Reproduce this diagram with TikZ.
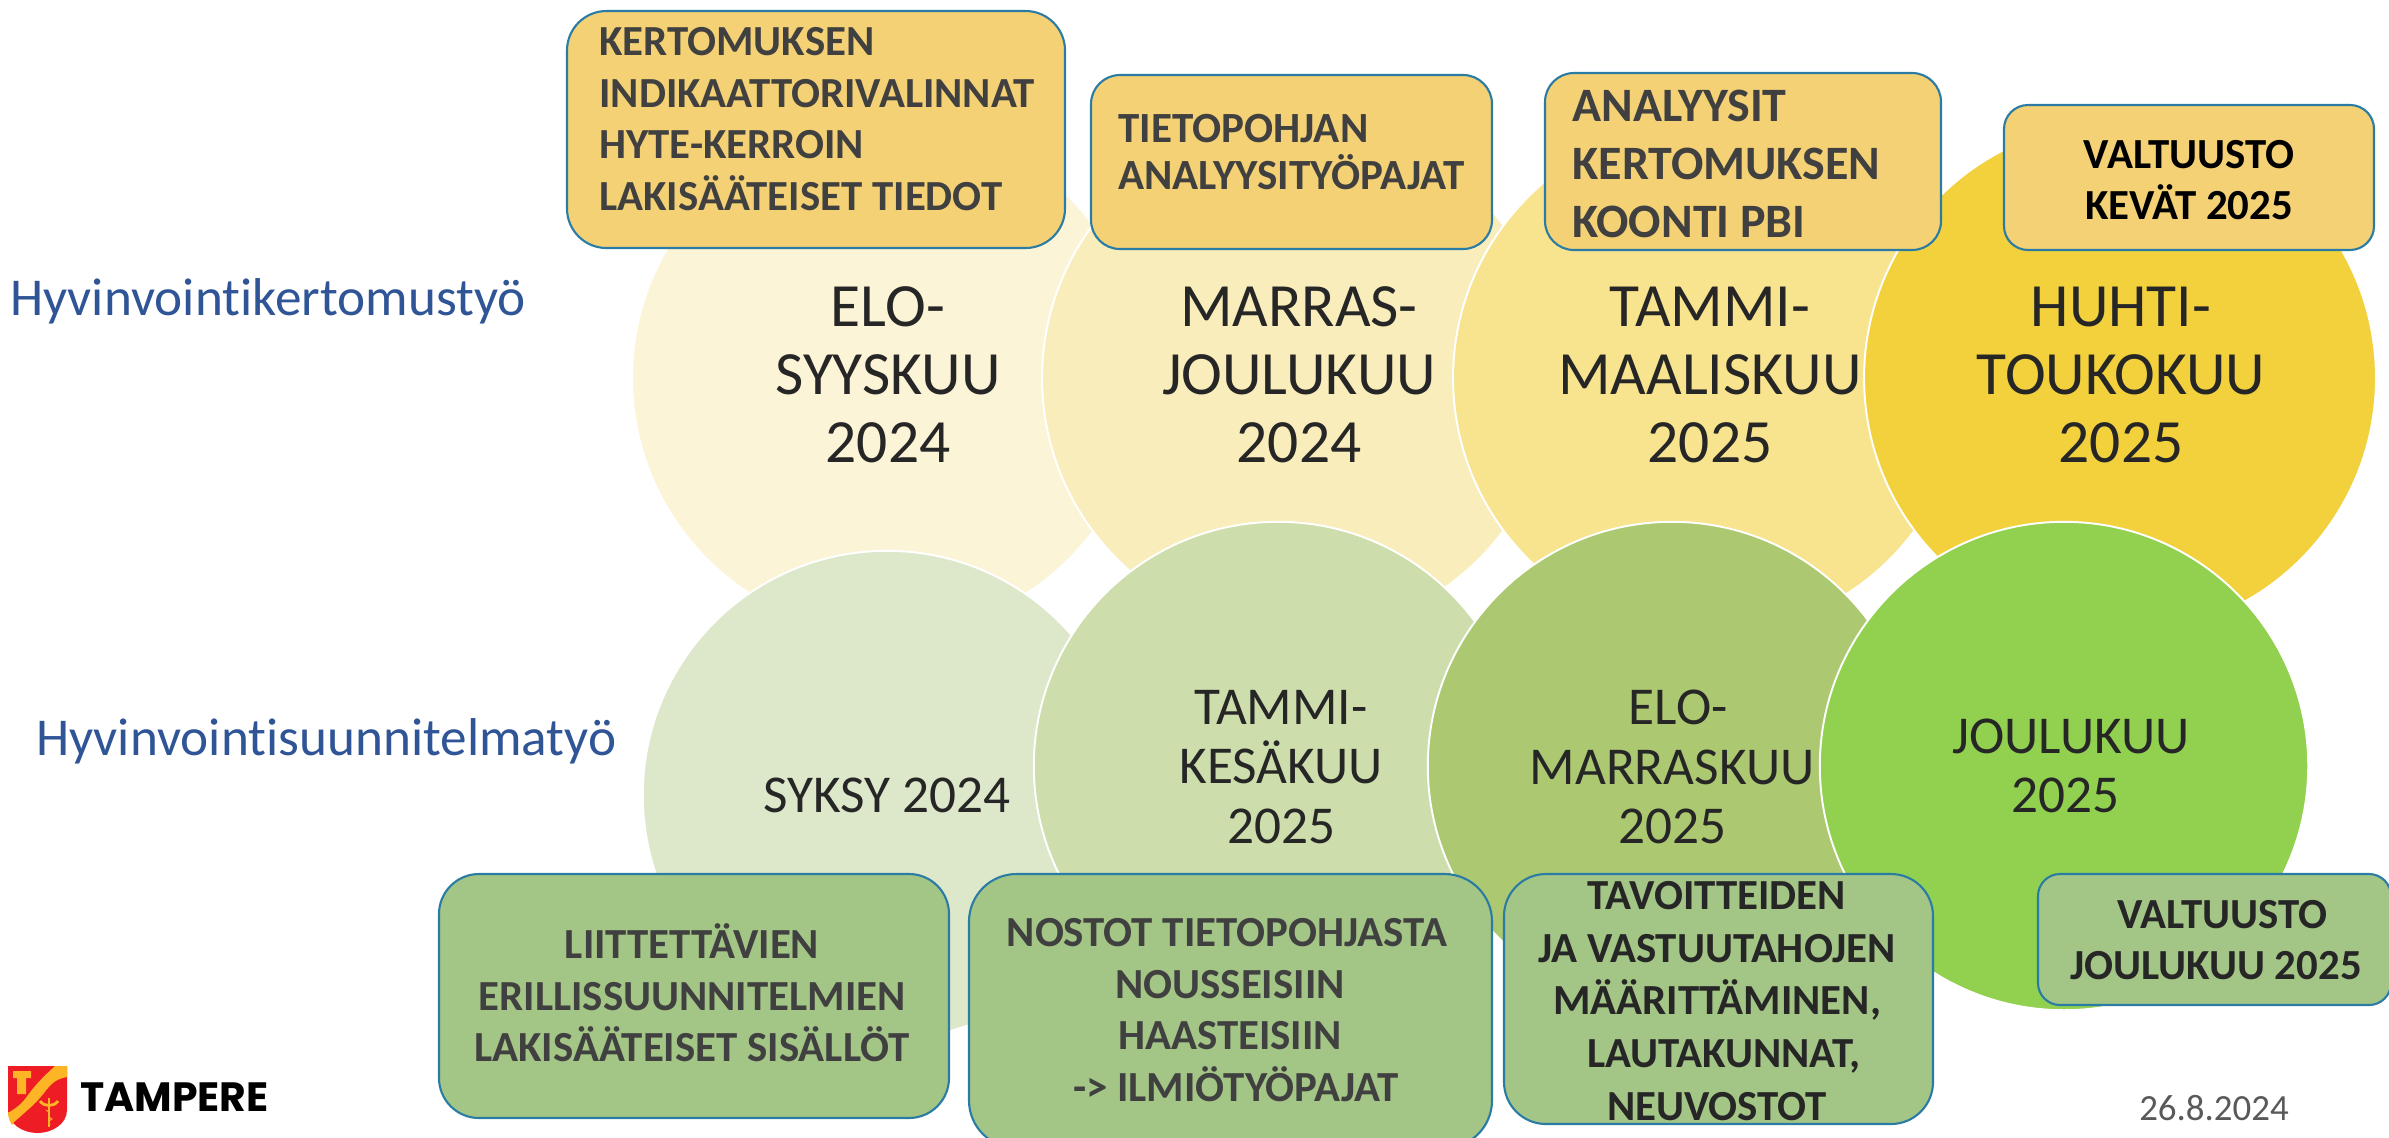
\documentclass[tikz,border=0pt]{standalone}
\usepackage{fontspec}
\setmainfont[Ligatures=NoCommon]{Carlito}
\newfontfamily\logofont{Poppins}
\newcommand{\topsize}{10.24cm}
\newcommand{\lowsize}{9.77cm}
\newcommand{\monthfont}{\fontsize{35}{38.7}\selectfont}
\newcommand{\lowfont}{\fontsize{30.3}{34}\selectfont}
\newcommand{\boxfont}{\fontsize{24.4}{29.3}\selectfont\bfseries}
\definecolor{topone}{HTML}{FCF4D6}
\definecolor{toptwo}{HTML}{F9EDBB}
\definecolor{topthree}{HTML}{F8E38E}
\definecolor{topfour}{HTML}{F2D13C}
\definecolor{lowone}{HTML}{DDE8CB}
\definecolor{lowtwo}{HTML}{CDDDAC}
\definecolor{lowthree}{HTML}{ACC871}
\definecolor{lowfour}{HTML}{92D050}
\definecolor{boxyellow}{HTML}{F4D175}
\definecolor{boxgreen}{HTML}{A3C585}
\definecolor{boxline}{HTML}{2A7CA4}
\definecolor{boxtext}{HTML}{404040}
\definecolor{labelblue}{HTML}{2F5597}
\definecolor{shieldred}{HTML}{EE1C25}
\definecolor{shieldgold}{HTML}{FDB525}
\tikzset{
  month/.style={circle,draw=white,line width=1.1pt,minimum size=#1,inner sep=0pt},
  monthtext/.style={align=center,font=\monthfont,text=black!85},
  notebox/.style={draw=boxline,line width=1.2pt,fill=#1},
  notetext/.style={align=center,font=\boxfont,text=boxtext,inner sep=0pt},
  rowlabel/.style={anchor=west,inner sep=0pt,font=\fontsize{30.3}{34}\selectfont,text=labelblue}
}

\begin{document}
\begin{tikzpicture}[x=0.02cm,y=-0.02cm]
\useasboundingbox (0,0) rectangle (2389,1137);

% Upper row of circles
\node (TA) [month=\topsize,fill=topone] at (888,378) {};
\node (TB) [month=\topsize,fill=toptwo] at (1298,378) {};
\node (TC) [month=\topsize,fill=topthree] at (1709,378) {};
\node (TD) [month=\topsize,fill=topfour] at (2120,378) {};

% Lower row of circles
\node (LA) [month=\lowsize,fill=lowone] at (887,795) {};
\node (LB) [month=\lowsize,fill=lowtwo] at (1278,766) {};
\node (LC) [month=\lowsize,fill=lowthree] at (1672,766) {};
\node (LD) [month=\lowsize,fill=lowfour] at (2064,766) {};

% Label the circles
\node (TAtext) [monthtext] at (888,375) {ELO-\\SYYSKUU\\2024};
\node (TBtext) [monthtext] at (1299,375) {MARRAS-\\JOULUKUU\\2024};
\node (TCtext) [monthtext] at (1710,375) {TAMMI-\\MAALISKUU\\2025};
\node (TDtext) [monthtext] at (2121,375) {HUHTI-\\TOUKOKUU\\2025};
\node (LAtext) [monthtext,font=\lowfont] at (887,795) {SYKSY 2024};
\node (LBtext) [monthtext,font=\lowfont] at (1281,767) {TAMMI-\\KESÄKUU\\2025};
\node (LCtext) [monthtext,font=\lowfont] at (1672,767) {\hspace*{7pt}ELO-\\MARRASKUU\\2025};
\node (LDtext) [monthtext,font=\lowfont] at (2071,766) {JOULUKUU\\2025\hspace*{6pt}};

% Upper boxes
\path[notebox=boxyellow,rounded corners=0.79cm] (567,11) rectangle (1065,248);
\node (UA) [notetext,align=left,anchor=west] at (599,119) {KERTOMUKSEN\\INDIKAATTORIVALINNAT\\HYTE-KERROIN\\LAKISÄÄTEISET TIEDOT};
\path[notebox=boxyellow,rounded corners=0.58cm] (1091,75) rectangle (1492,249);
\node (UB) [notetext,align=left,anchor=west,font=\bfseries\fontsize{24.5}{27}\selectfont] at (1118,152) {TIETOPOHJAN\\ANALYYSITYÖPAJAT};
\path[notebox=boxyellow,rounded corners=0.58cm] (1545,73) rectangle (1941,250);
\node (UC) [notetext,align=left,anchor=west,font=\bfseries\fontsize{27.3}{33}\selectfont] at (1572,164) {ANALYYSIT\\KERTOMUKSEN\\KOONTI PBI};
\path[notebox=boxyellow,rounded corners=0.48cm] (2004,105) rectangle (2374,250);
\node (UD) [notetext,text=black] at (2189,180) {VALTUUSTO\\KEVÄT 2025};

% Lower boxes
\path[notebox=boxgreen,rounded corners=0.8cm] (439,874) rectangle (949,1118);
\node (BA) [notetext] at (692,993) {LIITTETTÄVIEN\\ERILLISSUUNNITELMIEN\\LAKISÄÄTEISET SISÄLLÖT};
\path[notebox=boxgreen,rounded corners=0.95cm] (969,874) rectangle (1492,1148);
\node (BB) [notetext] at (1227,1010) {NOSTOT TIETOPOHJASTA\\\hspace*{3.4pt}NOUSSEISIIN\\\hspace*{3.4pt}HAASTEISIIN\\\hspace*{10pt}-> ILMIÖTYÖPAJAT};
\path[notebox=boxgreen,rounded corners=0.84cm] (1504,874) rectangle (1933,1124);
\node (BC) [notetext,text=black!85,font=\bfseries\fontsize{24.4}{30}\selectfont] at (1717,1001) {TAVOITTEIDEN\\JA VASTUUTAHOJEN\\MÄÄRITTÄMINEN,\\\hspace*{8pt}LAUTAKUNNAT,\\NEUVOSTOT};
\path[notebox=boxgreen,rounded corners=0.44cm] (2038,874) rectangle (2391,1005);
\node (BD) [notetext,text=black!85] at (2216,940) {\hspace*{7pt}VALTUUSTO\\JOULUKUU 2025};

% Row labels and date
\node (HK) [rowlabel] at (10,301) {Hyvinvointikertomustyö};
\node (HS) [rowlabel] at (36,741) {Hyvinvointisuunnitelmatyö};
\node (DATE) [font=\fontsize{21}{24}\selectfont,text=black!65] at (2214,1108) {26.8.2024};

% City mark
\fill[shieldred] (8,1066) -- (67,1066) -- (67,1110) .. controls (67,1124) and (52,1133) .. (37.5,1133) .. controls (23,1133) and (8,1124) .. (8,1110) -- cycle;
\fill[shieldgold] (55,1066) -- (67,1066) -- (67,1077) .. controls (55,1079) and (50,1085) .. (44,1093) .. controls (36,1103) and (30,1108) .. (22,1115) .. controls (18,1119) and (14,1121) .. (12,1125) .. controls (9,1120) and (8,1116) .. (8,1113) .. controls (16,1108) and (22,1104) .. (28,1095) .. controls (36,1084) and (44,1076) .. (55,1066) -- cycle;
\fill[shieldgold] (13,1071) rectangle (31,1078) (17,1078) rectangle (26,1094);
\draw[shieldgold,line width=0.9pt] (49,1098) -- (49,1127);
\draw[shieldgold,line width=1.6pt] (40,1101) .. controls (44,1107) and (54,1107) .. (58,1101);
\draw[shieldgold,line width=0.5pt] (46,1110) .. controls (52,1113) and (46,1116) .. (52,1119) .. controls (46,1121) and (52,1124) .. (49,1126);
\node (LOGO) [anchor=west,inner sep=0pt,font=\logofont\bfseries\fontsize{23.3}{26}\selectfont] at (80,1097) {TAMPERE};

\end{tikzpicture}
\end{document}
